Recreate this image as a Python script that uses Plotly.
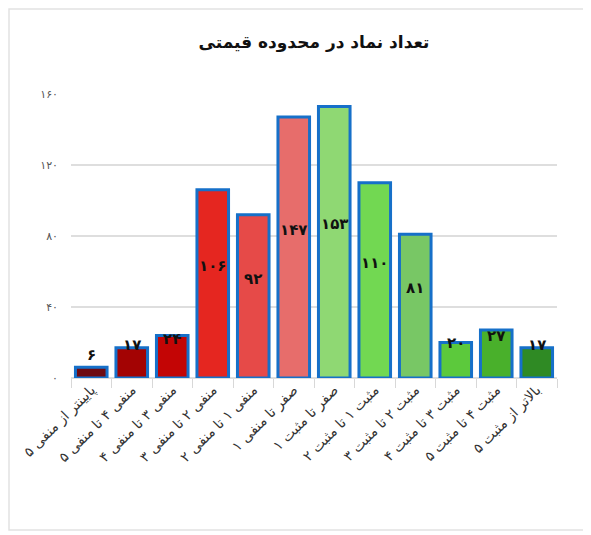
import plotly.graph_objects as go

categories = [
    "پایینتر از منفی ۵",
    "منفی ۴ تا منفی ۵",
    "منفی ۳ تا منفی ۴",
    "منفی ۲ تا منفی ۳",
    "منفی ۱ تا منفی ۲",
    "صفر تا منفی ۱",
    "صفر تا مثبت ۱",
    "مثبت ۱ تا مثبت ۲",
    "مثبت ۲ تا مثبت ۳",
    "مثبت ۳ تا مثبت ۴",
    "مثبت ۴ تا مثبت ۵",
    "بالاتر از مثبت ۵",
]
values = [6, 17, 24, 106, 92, 147, 153, 110, 81, 20, 27, 17]
colors = ["#6e0b12", "#a30303", "#c30505", "#e52620", "#e64a48", "#e76d6b",
          "#8fd873", "#72d852", "#78c765", "#5cc93c", "#49b02b", "#2f8a24"]
y_ticks = [0, 40, 80, 120, 160]

FA = str.maketrans("0123456789", "۰۱۲۳۴۵۶۷۸۹")
def fa(n):
    return str(n).translate(FA)

FONT = "DejaVu Sans"

fig = go.Figure()
fig.add_trace(go.Bar(
    x=categories, y=values,
    marker=dict(color=colors, line=dict(color="#1670c9", width=3)),
    width=0.78,
    hoverinfo="skip",
))

for c, v in zip(categories, values):
    fig.add_annotation(x=c, y=v / 2 + 10, text="<b>" + fa(v) + "</b>", showarrow=False,
                       font=dict(family=FONT, size=15, color="#111"))

# page has an 8px body margin; figure sized to fit the window
W, H = 583, 527
L, T = 63, 86
pw, ph = 486, 284
R, B = W - L - pw, H - T - ph
fig.add_shape(type="rect", xref="paper", yref="paper",
              x0=(1 - L) / pw, x1=(578 - L) / pw,
              y0=(T + ph - 522) / ph, y1=(T + ph - 1) / ph,
              line=dict(color="#e2e2e2", width=1.5), fillcolor="rgba(0,0,0,0)", layer="below")

fig.update_layout(
    width=W, height=H,
    margin=dict(l=L, r=R, t=T, b=B, autoexpand=False),
    paper_bgcolor="white", plot_bgcolor="white",
    title=dict(text="<b>تعداد نماد در محدوده قیمتی</b>", x=0.5, xref="paper",
               y=1 - 34 / H, yanchor="middle", xanchor="center",
               font=dict(family=FONT, size=17, color="#111")),
    font=dict(family=FONT),
    showlegend=False,
    bargap=0.22,
)
fig.update_xaxes(
    tickangle=-45, tickfont=dict(family=FONT, size=14, color="#333"),
    ticks="outside", tickson="boundaries", ticklen=9, tickcolor="#d8d8d8",
    showgrid=False, showline=False, automargin=False,
)
fig.update_yaxes(
    range=[0, 160], tickvals=y_ticks, ticktext=[fa(t) for t in y_ticks],
    tickfont=dict(family=FONT, size=11, color="#555"),
    gridcolor="#dedede", gridwidth=1.5, zeroline=True, zerolinecolor="#dedede", zerolinewidth=1.5,
    ticklabelstandoff=12, showline=False, automargin=False,
)

fig.write_html("out.html")
